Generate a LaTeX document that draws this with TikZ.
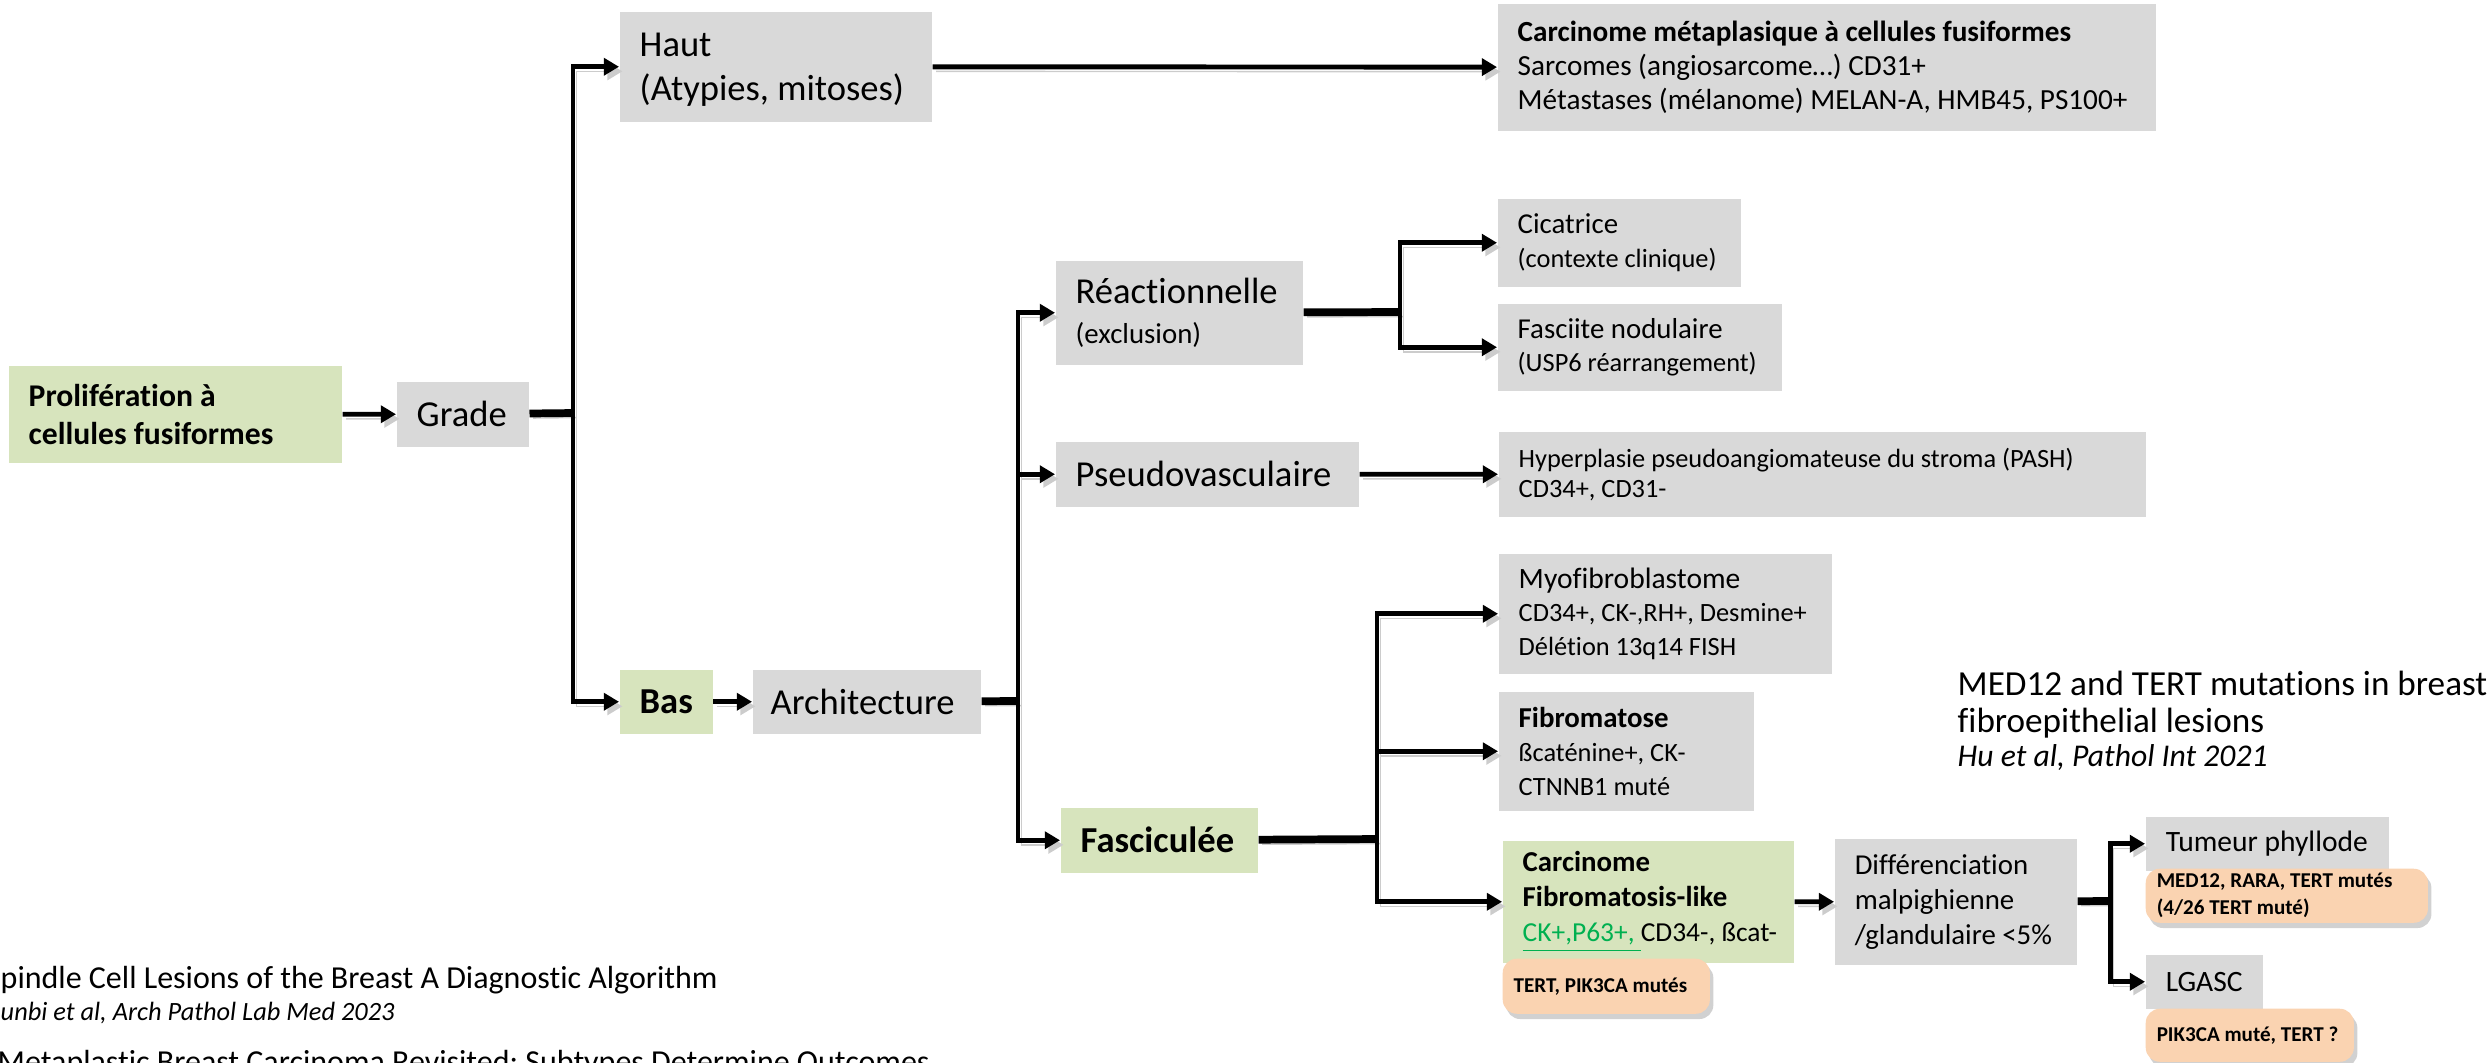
\documentclass[tikz,border=0pt]{standalone}
\usepackage{fontspec}
\setmainfont{Carlito}[Ligatures=NoCommon]
\usetikzlibrary{arrows.meta,shadows}
\frenchspacing

\definecolor{boxgray}{HTML}{D9D9D9}
\definecolor{boxgreen}{HTML}{D7E4BD}
\definecolor{boxorange}{HTML}{FAD3B1}
\definecolor{okgreen}{HTML}{00B050}

\newcommand{\bigtxt}{\fontsize{10.4}{13.4}\selectfont}
\newcommand{\notetxt}{\fontsize{10}{12}\selectfont}
\newcommand{\midtxt}{\fontsize{9}{10.8}\selectfont}
\newcommand{\smalltxt}{\fontsize{8.2}{10}\selectfont}
\newcommand{\detailtxt}{\fontsize{7.5}{9.6}\selectfont}
\newcommand{\tinytxt}{\fontsize{6}{7.7}\selectfont}

\tikzset{
  greybox/.style={anchor=north west, inner sep=0pt, fill=boxgray},
  greenbox/.style={greybox, fill=boxgreen},
  mutbox/.style={greybox, fill=boxorange, rounded corners=4pt,
    drop shadow={shadow xshift=1pt, shadow yshift=-1.5pt, opacity=0.3, fill=black!60}},
  boxtext/.style={anchor=west, xshift=0.2cm, inner sep=0pt, align=left},
  muttext/.style={anchor=west, xshift=0.11cm, inner sep=0pt, align=left, font=\tinytxt\bfseries},
  lineshadow/.style={preaction={draw=black!20, transform canvas={shift={(1pt,-1.3pt)}}}},
  branch/.style={line width=1.4pt, -{Triangle[length=4.3pt,width=4.8pt]}, lineshadow},
  trunk/.style={line width=2.2pt, lineshadow},
}

\begin{document}
\begin{tikzpicture}[x=0.01cm, y=-0.01cm]
				\useasboundingbox (0,0) rectangle (2489,1062);
				\clip (0,0) rectangle (2489,1062);
				% first level
				\node[greenbox, minimum width=3.33cm, minimum height=0.97cm, label={[boxtext, font=\midtxt\bfseries]west:{Prolifération à\\cellules fusiformes}}] (prolif) at (8,365) {};
				\node[greybox, minimum width=1.32cm, minimum height=0.65cm, label={[boxtext, font=\bigtxt]west:Grade}] (grade) at (396,381) {};
				\node[greybox, minimum width=3.12cm, minimum height=1.10cm, label={[boxtext, yshift=-0.03cm, font=\fontsize{10.4}{12.5}\selectfont]west:{Haut\\(Atypies, mitoses)}}] (haut) at (619,11) {};
				\node[greenbox, minimum width=0.93cm, minimum height=0.64cm, label={[boxtext, font=\bigtxt\bfseries]west:Bas}] (bas) at (619,669) {};
				\node[greybox, minimum width=2.28cm, minimum height=0.64cm, label={[boxtext, xshift=-0.02cm, font=\bigtxt]west:Architecture}] (archi) at (752,669) {};
				% architecture
				\node[greybox, minimum width=2.47cm, minimum height=1.04cm, label={[boxtext, font=\fontsize{10.4}{11.6}\selectfont]west:{Réactionnelle\\{\smalltxt(exclusion)}}}] (reac) at (1055,260) {};
				\node[greybox, minimum width=3.03cm, minimum height=0.65cm, label={[boxtext, font=\bigtxt]west:Pseudovasculaire}] (pseudo) at (1055,441) {};
				\node[greenbox, minimum width=1.97cm, minimum height=0.65cm, label={[boxtext, font=\bigtxt\bfseries]west:Fasciculée}] (fasc) at (1060,807) {};
				% diagnoses
				\node[greybox, minimum width=6.58cm, minimum height=1.27cm, label={[boxtext, font=\fontsize{8.3}{9.7}\selectfont]west:{\textbf{Carcinome métaplasique à cellules fusiformes}\\Sarcomes (angiosarcome…) CD31+\\Métastases (mélanome) MELAN-A, HMB45, PS100+}}] (carc) at (1497,3) {};
				\node[greybox, minimum width=2.43cm, minimum height=0.88cm, label={[boxtext, font=\detailtxt]west:{{\smalltxt Cicatrice}\\(contexte clinique)}}] (cica) at (1497,198) {};
				\node[greybox, minimum width=2.84cm, minimum height=0.87cm, label={[boxtext, font=\detailtxt]west:{{\smalltxt Fasciite nodulaire}\\(USP6 réarrangement)}}] (fasci) at (1497,303) {};
				\node[greybox, minimum width=6.47cm, minimum height=0.85cm, label={[boxtext, font=\fontsize{7.5}{8.6}\selectfont]west:{Hyperplasie pseudoangiomateuse du stroma (PASH)\\CD34+, CD31-}}] (pash) at (1498,431) {};
				\node[greybox, minimum width=3.33cm, minimum height=1.20cm, label={[boxtext, font=\detailtxt]west:{{\fontsize{8.4}{10}\selectfont Myofibroblastome}\\CD34+, CK-,RH+, Desmine+\\Délétion 13q14 FISH}}] (myo) at (1498,553) {};
				\node[greybox, minimum width=2.55cm, minimum height=1.19cm, label={[boxtext, font=\detailtxt]west:{{\smalltxt\bfseries Fibromatose}\\ßcaténine+, CK-\\CTNNB1 muté}}] (fibro) at (1498,691) {};
				\node[greenbox, minimum width=2.91cm, minimum height=1.22cm, label={[boxtext, font=\smalltxt]west:{\textbf{Carcinome}\\\textbf{Fibromatosis-like}\\{\fontsize{7.8}{10}\selectfont\textcolor{okgreen}{\underline{CK+,P63+,\ }}CD34-, ßcat-}}}] (cfl) at (1502,840) {};
				\node[mutbox, minimum width=2.07cm, minimum height=0.55cm, label={[muttext]west:{TERT, PIK3CA mutés}}] (tert) at (1502,958) {};
				\node[greybox, minimum width=2.42cm, minimum height=1.26cm, label={[boxtext, font=\smalltxt]west:{Différenciation\\malpighienne\\/glandulaire <5\%}}] (diff) at (1834,838) {};
				\node[greybox, minimum width=2.43cm, minimum height=0.54cm, label={[boxtext, font=\fontsize{8.4}{10}\selectfont]west:Tumeur phyllode}] (tum) at (2145,816) {};
				\node[mutbox, minimum width=2.82cm, minimum height=0.54cm, label={[muttext]west:{MED12, RARA, TERT mutés\\(4/26 TERT muté)}}] (medbox) at (2145,868) {};
				\node[greybox, minimum width=1.17cm, minimum height=0.54cm, label={[boxtext, font=\fontsize{8.4}{10}\selectfont]west:LGASC}] (lgasc) at (2145,954) {};
				\node[mutbox, minimum width=2.08cm, minimum height=0.53cm, label={[muttext]west:{PIK3CA muté, TERT ?}}] (pikbox) at (2145,1008) {};
				% references
				\node[anchor=base west, inner sep=0pt, font=\notetxt] (note1) at (1957,695) {MED12 and TERT mutations in breast};
				\node[anchor=base west, inner sep=0pt, font=\notetxt] (note2) at (1957,732) {fibroepithelial lesions};
				\node[anchor=base west, inner sep=0pt, font=\midtxt\itshape] (note3) at (1957,766) {Hu et al, Pathol Int 2021};
				\node[anchor=base west, inner sep=0pt, font=\fontsize{9.1}{11}\selectfont] (ref1) at (0,988) {pindle Cell Lesions of the Breast A Diagnostic Algorithm};
				\node[anchor=base west, inner sep=0pt, font=\detailtxt\itshape] (ref2) at (0,1020) {unbi et al, Arch Pathol Lab Med 2023};
				\node[anchor=base west, inner sep=0pt, font=\fontsize{9.1}{11}\selectfont] (ref3) at (-3,1072) {Metaplastic Breast Carcinoma Revisited: Subtypes Determine Outcomes};
				% connectors
				\coordinate (gsplit) at (573,413);
				\coordinate (asplit) at (1018,701);
				\coordinate (rsplit) at (1400,312);
				\coordinate (fsplit) at (1377,839);
				\coordinate (dsplit) at (2110,901);
				\draw[branch] (prolif) -- (grade);
				\draw[trunk] (grade) -- (gsplit);
				\draw[branch] (gsplit) |- (haut);
				\draw[branch] (gsplit) |- (bas);
				\draw[branch] (haut) -- (carc);
				\draw[branch] (bas) -- (archi);
				\draw[trunk] (archi) -- (asplit);
				\draw[branch] (asplit) |- (reac);
				\draw[branch] (asplit) |- (pseudo);
				\draw[branch] (asplit) |- (fasc);
				\draw[trunk] (reac) -- (rsplit);
				\draw[branch] (rsplit) |- (cica);
				\draw[branch] (rsplit) |- (fasci);
				\draw[branch] (pseudo) -- (pash);
				\draw[trunk] (fasc) -- (fsplit);
				\draw[branch] (fsplit) |- (myo);
				\draw[branch] (fsplit) |- (fibro);
				\draw[branch] (fsplit) |- (cfl);
				\draw[branch] (cfl) -- (diff);
				\draw[trunk] (diff) -- (dsplit);
				\draw[branch] (dsplit) |- (tum);
				\draw[branch] (dsplit) |- (lgasc);
			\end{tikzpicture}
\end{document}
